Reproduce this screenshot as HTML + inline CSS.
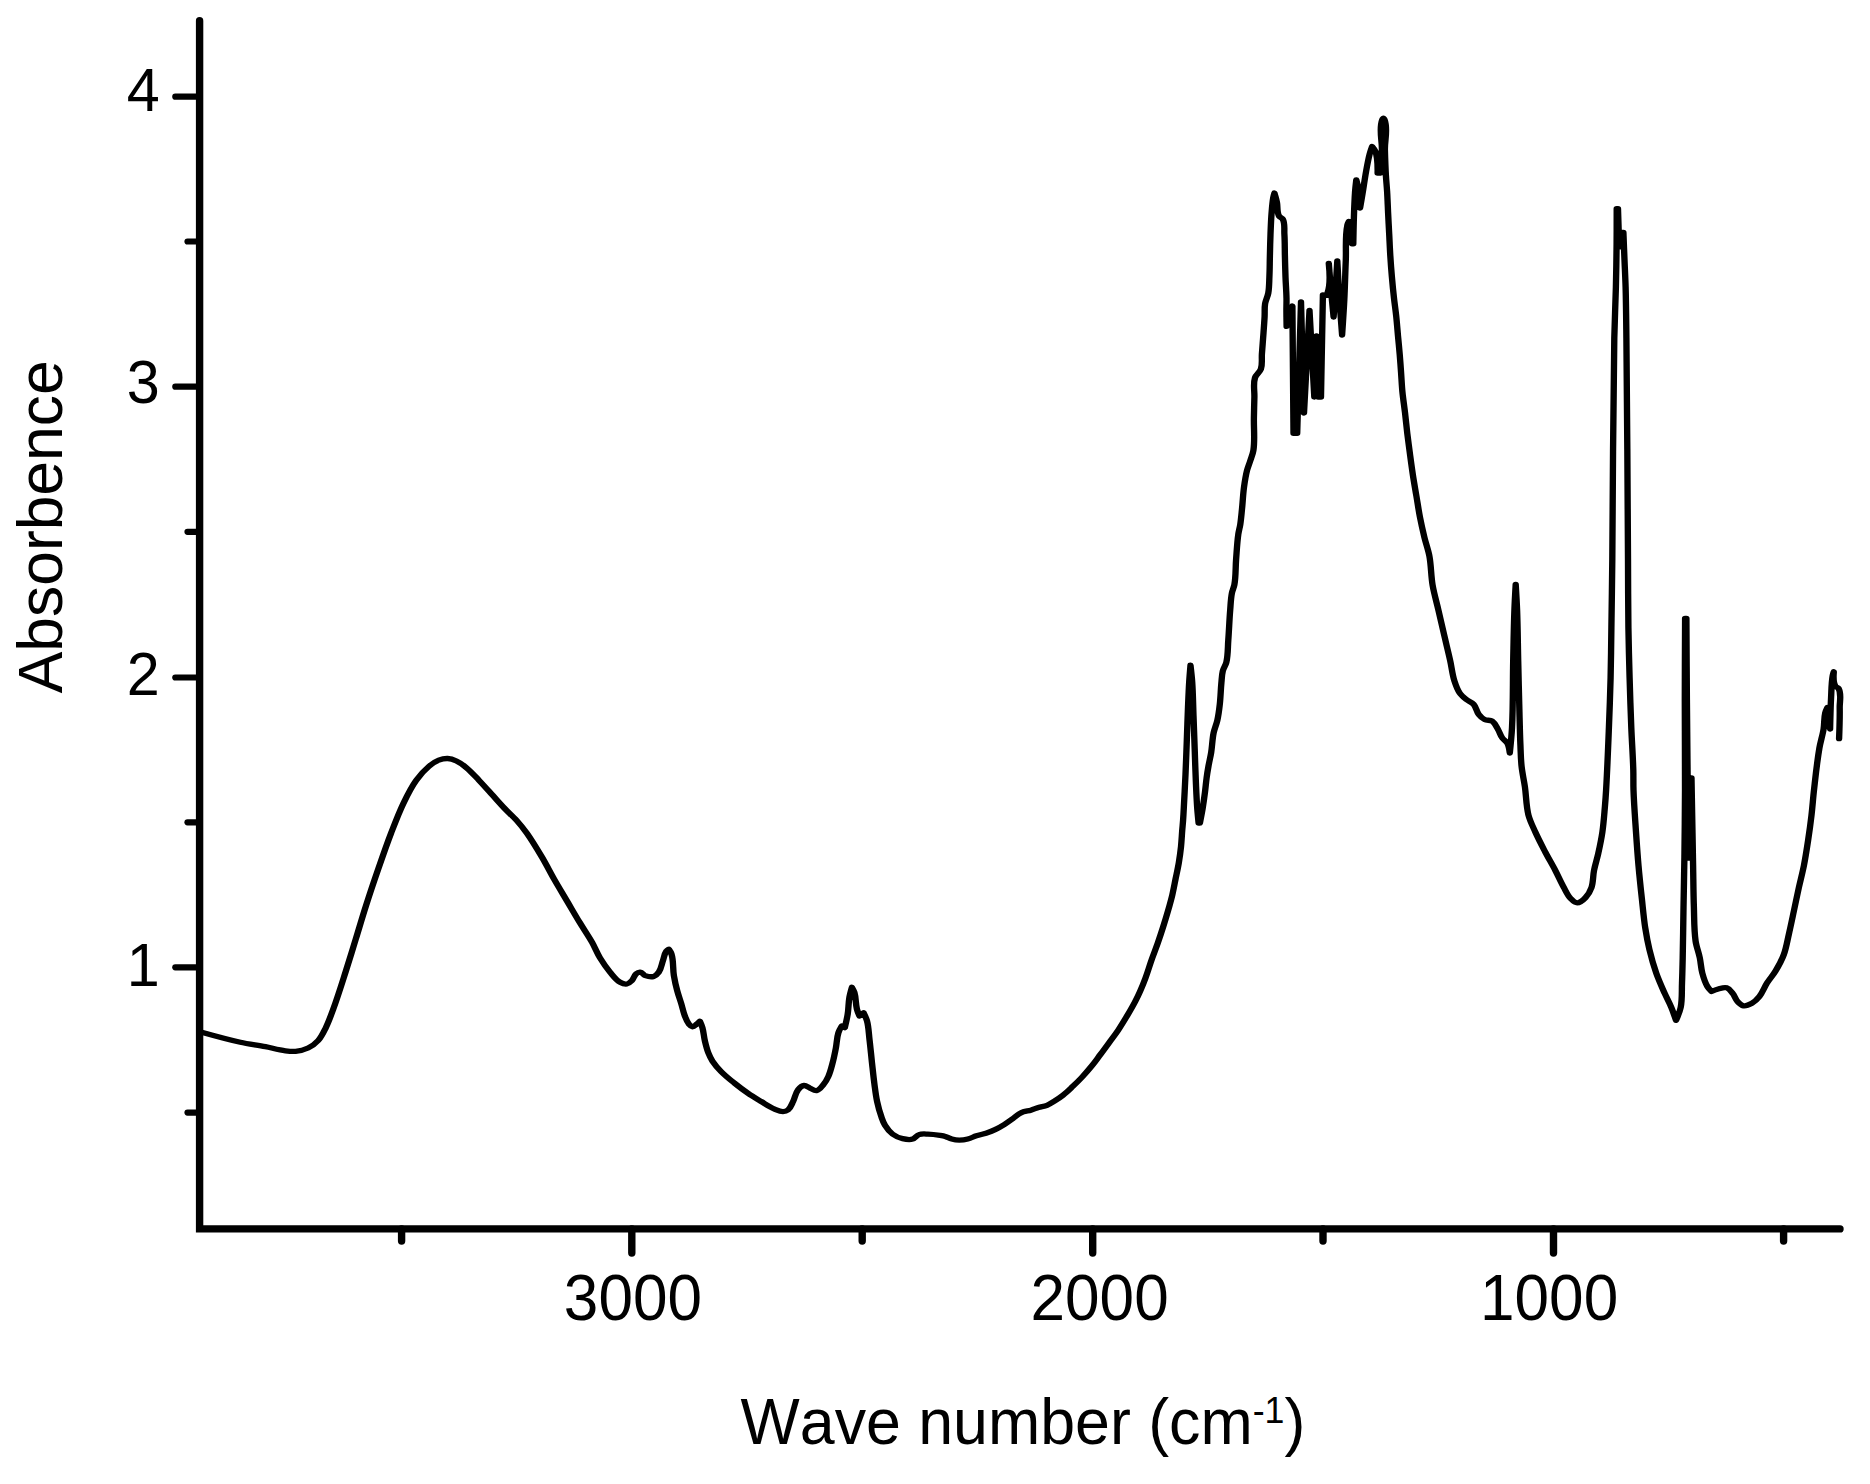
<!DOCTYPE html><html><head><meta charset="utf-8"><title>FTIR spectrum</title><style>html,body{margin:0;padding:0;background:#fff}svg{display:block}text{font-family:"Liberation Sans",Arial,sans-serif;fill:#000;font-kerning:none}</style></head><body>
<svg width="1870" height="1484" viewBox="0 0 1870 1484">
<rect width="1870" height="1484" fill="#fff"/>
<g stroke="#000" stroke-linecap="round" fill="none">
<path d="M199.6,20.7 V1228.9 H1840" stroke-width="7.4" stroke-linejoin="miter"/>
<line x1="175.3" y1="96.7" x2="199.6" y2="96.7" stroke-width="6.2"/>
<line x1="175.3" y1="386.7" x2="199.6" y2="386.7" stroke-width="6.2"/>
<line x1="175.3" y1="677.5" x2="199.6" y2="677.5" stroke-width="6.2"/>
<line x1="175.3" y1="967.3" x2="199.6" y2="967.3" stroke-width="6.2"/>
<line x1="187.5" y1="241.5" x2="199.6" y2="241.5" stroke-width="6.2"/>
<line x1="187.5" y1="531.8" x2="199.6" y2="531.8" stroke-width="6.2"/>
<line x1="187.5" y1="822.3" x2="199.6" y2="822.3" stroke-width="6.2"/>
<line x1="187.5" y1="1112.6" x2="199.6" y2="1112.6" stroke-width="6.2"/>
<line x1="631.8" y1="1228.9" x2="631.8" y2="1253.1" stroke-width="7.4"/>
<line x1="1092.7" y1="1228.9" x2="1092.7" y2="1253.1" stroke-width="7.4"/>
<line x1="1553.5" y1="1228.9" x2="1553.5" y2="1253.1" stroke-width="7.4"/>
<line x1="401.6" y1="1228.9" x2="401.6" y2="1241" stroke-width="7.4"/>
<line x1="862.2" y1="1228.9" x2="862.2" y2="1241" stroke-width="7.4"/>
<line x1="1323" y1="1228.9" x2="1323" y2="1241" stroke-width="7.4"/>
<line x1="1783.6" y1="1228.9" x2="1783.6" y2="1241" stroke-width="7.4"/>
<path d="M168.00,1032.2C168.00,1032.2 189.51,1039.4 200.25,1042.2C207.10,1044.0 214.28,1045.1 221.17,1046.7C226.71,1048.0 232.32,1050.0 237.92,1050.8C240.68,1051.2 243.57,1051.6 246.33,1051.3C249.87,1050.9 253.55,1049.8 256.75,1048.0C259.87,1046.2 262.85,1043.6 265.17,1040.5C267.87,1036.9 269.63,1032.2 271.42,1027.9C273.90,1021.9 275.82,1015.3 277.75,1009.0C281.51,996.7 284.83,983.8 288.17,971.3C291.03,960.6 293.82,949.5 296.58,938.7C299.35,927.9 302.05,916.7 304.92,906.0C308.25,893.5 311.84,880.7 315.42,868.3C318.78,856.6 322.22,844.6 325.92,833.1C329.15,823.0 332.42,812.6 336.33,802.9C339.43,795.2 342.67,787.2 346.83,780.3C349.84,775.3 353.39,770.5 357.33,766.5C359.83,764.0 362.64,761.6 365.67,760.2C367.96,759.1 370.54,758.4 373.00,758.5C375.51,758.6 378.05,759.7 380.33,761.0C383.37,762.7 386.17,765.2 388.75,767.8C392.50,771.5 395.81,776.1 399.17,780.3C402.72,784.8 406.21,789.5 409.67,794.1C413.14,798.7 416.61,803.5 420.17,808.0C423.52,812.2 427.34,816.2 430.58,820.5C433.55,824.5 436.42,828.8 439.00,833.1C443.51,840.7 447.62,849.0 451.58,857.0C455.20,864.3 458.48,872.2 462.00,879.6C465.39,886.7 469.03,893.9 472.50,901.0C475.96,908.0 479.47,915.3 483.00,922.3C486.38,929.0 490.22,935.6 493.42,942.4C495.77,947.4 497.53,953.0 500.00,957.9C502.49,962.8 505.32,967.8 508.42,972.2C510.93,975.8 513.35,980.0 516.75,982.3C518.42,983.4 520.52,984.4 522.42,984.0C524.05,983.7 525.43,982.0 526.58,980.6C528.09,978.7 528.42,975.6 530.08,973.9C531.04,972.9 532.34,972.0 533.58,972.2C535.24,972.4 536.19,974.9 537.75,975.6C539.93,976.5 542.53,977.2 544.75,976.4C546.49,975.8 547.96,974.0 549.00,972.2C550.98,968.8 551.34,964.3 552.50,960.4C553.40,957.4 553.69,953.8 555.25,951.2C555.76,950.3 557.33,949.2 557.33,949.2C557.33,949.2 559.05,952.1 559.50,953.7C561.40,960.6 560.59,968.4 561.58,975.6C562.28,980.6 563.24,985.8 564.33,990.7C565.32,995.2 566.72,999.7 567.83,1004.1C568.81,1008.0 569.44,1012.1 570.67,1015.9C571.61,1018.8 572.50,1021.9 574.17,1024.3C574.91,1025.4 575.84,1026.7 577.00,1026.8C578.34,1026.9 579.43,1025.3 580.50,1024.3C581.49,1023.4 583.25,1021.2 583.25,1021.2C583.25,1021.2 584.81,1025.4 585.33,1027.6C586.36,1031.9 586.55,1036.6 587.42,1041.0C588.19,1044.9 589.02,1049.0 590.25,1052.8C591.19,1055.7 592.34,1058.6 593.75,1061.2C595.73,1064.8 598.23,1068.2 600.75,1071.3C604.17,1075.5 608.11,1079.3 611.92,1083.0C615.52,1086.5 619.34,1090.0 623.17,1093.1C626.75,1096.1 630.60,1098.8 634.33,1101.5C637.97,1104.1 641.60,1107.1 645.50,1109.1C647.72,1110.2 650.09,1111.6 652.50,1111.6C653.98,1111.6 655.60,1111.0 656.75,1109.9C658.84,1107.9 659.70,1104.4 660.92,1101.5C662.51,1097.7 662.88,1093.0 665.08,1089.7C666.33,1087.8 668.02,1085.7 670.00,1085.5C671.76,1085.3 673.27,1087.3 674.92,1088.1C676.74,1089.0 678.57,1091.0 680.50,1090.6C682.91,1090.1 684.51,1087.0 686.08,1084.7C687.82,1082.2 689.22,1079.3 690.33,1076.3C691.92,1072.1 692.84,1067.4 693.83,1062.9C694.92,1058.0 695.78,1052.8 696.58,1047.8C697.38,1042.8 697.37,1037.5 698.67,1032.7C699.31,1030.3 701.50,1025.9 701.50,1025.9L704.00,1027.6C704.00,1027.6 705.83,1018.7 706.42,1014.2C707.14,1008.7 707.04,1002.9 707.83,997.4C708.32,994.0 709.92,987.3 709.92,987.3C709.92,987.3 711.54,990.6 712.00,992.4C713.38,997.7 712.93,1003.7 714.08,1009.1C714.58,1011.4 716.17,1015.9 716.17,1015.9L719.67,1012.8C719.67,1012.8 721.87,1018.1 722.50,1020.9C723.85,1026.8 723.97,1033.3 724.58,1039.4C725.36,1047.1 725.95,1055.1 726.67,1062.9C727.33,1070.1 727.94,1077.5 728.75,1084.7C729.37,1090.3 729.93,1096.0 730.92,1101.5C731.83,1106.6 732.99,1111.7 734.42,1116.6C735.28,1119.5 736.13,1122.7 737.50,1125.3C739.19,1128.6 741.27,1131.8 743.83,1134.1C746.25,1136.3 749.23,1137.8 752.17,1138.6C754.87,1139.4 757.91,1140.0 760.58,1139.1C762.63,1138.4 763.83,1135.4 765.83,1134.6C768.12,1133.6 770.74,1134.0 773.17,1134.1C776.54,1134.2 780.00,1134.7 783.33,1135.3C784.80,1135.6 786.32,1135.9 787.75,1136.4C789.59,1137.1 791.31,1138.4 793.17,1139.0C795.18,1139.7 797.33,1140.1 799.42,1140.1C801.77,1140.1 804.21,1139.7 806.50,1139.0C808.95,1138.3 811.26,1136.7 813.67,1135.8C816.27,1134.8 819.07,1134.2 821.67,1133.2C824.36,1132.1 827.10,1130.9 829.67,1129.4C832.11,1128.0 834.54,1126.3 836.83,1124.6C839.25,1122.8 841.61,1120.7 843.92,1118.7C845.70,1117.2 847.37,1115.3 849.25,1113.9C850.37,1113.1 851.59,1112.3 852.83,1111.8C854.83,1111.0 857.06,1110.9 859.08,1110.2C861.19,1109.5 863.24,1108.3 865.33,1107.5C867.67,1106.6 870.24,1106.4 872.50,1105.3C874.67,1104.2 876.68,1102.6 878.67,1101.1C881.10,1099.3 883.58,1097.3 885.83,1095.2C888.62,1092.6 891.26,1089.5 893.83,1086.6C896.54,1083.5 899.29,1080.3 901.83,1077.0C904.61,1073.4 907.36,1069.6 909.92,1065.8C912.36,1062.2 914.68,1058.2 917.00,1054.5C919.38,1050.7 921.81,1046.7 924.17,1042.8C926.65,1038.7 929.32,1034.7 931.67,1030.5C934.29,1025.8 936.77,1020.8 939.17,1016.0C941.50,1011.3 943.88,1006.4 946.00,1001.5C947.50,998.1 948.94,994.5 950.25,990.9C951.79,986.7 953.26,982.3 954.58,978.0C956.49,971.8 958.08,965.2 959.92,959.0C961.48,953.7 963.28,948.3 964.83,943.0C966.36,937.7 967.85,932.3 969.25,927.0C970.65,921.7 972.06,916.2 973.33,910.9C974.59,905.6 975.87,900.2 976.92,894.9C977.96,889.6 978.77,884.1 979.67,878.8C980.56,873.5 981.59,868.1 982.33,862.8C983.07,857.5 983.70,852.0 984.17,846.7C984.63,841.4 984.82,836.0 985.17,830.7C985.40,827.2 985.71,823.5 985.92,820.0C986.15,816.0 986.32,811.9 986.50,807.9C987.00,796.8 987.50,785.4 987.92,774.3C988.33,763.2 988.66,751.8 989.00,740.7C989.34,729.6 989.62,718.3 990.00,707.2C990.29,698.9 990.57,690.3 991.00,682.0C991.29,676.5 992.08,665.2 992.08,665.2C992.08,665.2 993.18,676.4 993.50,682.0C994.14,693.1 994.24,704.5 994.58,715.6C994.93,726.7 995.25,738.0 995.58,749.1C995.91,760.2 996.18,771.6 996.58,782.7C996.89,791.0 997.17,799.6 997.67,807.9C997.97,812.9 998.83,823.0 998.83,823.0L999.92,823.0C999.92,823.0 1001.57,813.0 1002.25,808.1C1002.98,802.8 1003.60,797.3 1004.17,792.0C1004.66,787.4 1004.98,782.6 1005.50,778.0C1005.95,774.0 1006.50,769.9 1007.08,766.0C1007.75,761.5 1008.72,756.8 1009.33,752.3C1010.18,746.0 1010.24,739.3 1011.33,733.0C1012.07,728.8 1013.63,724.7 1014.42,720.5C1015.41,715.2 1015.99,709.6 1016.50,704.2C1017.17,697.2 1017.27,689.8 1017.83,682.8C1018.15,678.9 1018.18,674.8 1019.00,671.0C1019.64,668.1 1021.32,665.4 1021.92,662.5C1023.39,655.3 1023.11,647.4 1023.58,640.0C1024.21,630.1 1024.49,619.8 1025.17,609.9C1025.55,604.3 1025.68,598.6 1026.58,593.1C1027.05,590.3 1028.24,587.5 1028.67,584.7C1029.90,576.5 1029.55,567.8 1030.08,559.5C1030.62,551.2 1030.93,542.6 1031.92,534.3C1032.31,531.0 1033.15,527.6 1033.58,524.3C1034.23,519.3 1034.57,514.1 1035.00,509.1C1035.61,501.9 1035.86,494.5 1036.67,487.3C1037.29,481.7 1038.00,476.0 1039.17,470.5C1039.89,467.1 1041.11,463.8 1042.00,460.4C1042.87,457.1 1044.06,453.8 1044.50,450.4C1045.85,439.9 1044.74,428.9 1044.92,418.3C1045.03,411.3 1045.17,404.0 1045.33,397.0C1045.48,390.6 1044.18,383.8 1045.83,377.7C1046.73,374.4 1049.81,372.4 1050.75,369.1C1052.10,364.4 1051.29,359.1 1051.58,354.2C1052.00,347.1 1052.50,339.9 1052.92,332.8C1053.23,327.5 1053.60,322.0 1053.83,316.7C1054.02,312.4 1053.66,307.9 1054.25,303.7C1054.75,300.1 1056.37,296.6 1056.92,293.0C1057.70,287.8 1057.63,282.3 1057.83,277.0C1058.10,269.9 1058.10,262.7 1058.25,255.6C1058.40,248.5 1058.52,241.3 1058.75,234.2C1058.98,227.1 1059.20,219.8 1059.67,212.8C1059.99,207.8 1060.28,202.7 1061.00,197.8C1061.24,196.2 1062.00,193.0 1062.00,193.0C1062.00,193.0 1063.54,199.1 1064.08,202.1C1064.89,206.6 1063.94,212.0 1065.83,216.0C1066.50,217.4 1068.36,217.8 1069.00,219.2C1070.95,223.6 1070.06,229.2 1070.33,234.2C1070.71,241.2 1070.60,248.5 1070.75,255.6C1070.90,262.7 1071.03,269.9 1071.25,277.0C1071.47,284.0 1071.97,291.3 1072.08,298.3C1072.15,302.2 1071.99,306.1 1072.00,310.0C1072.01,315.4 1072.17,326.4 1072.17,326.4L1077.00,306.0L1077.92,433.3L1081.00,433.3L1084.17,301.8L1086.67,413.0L1091.25,310.3L1095.25,397.0L1097.08,336.0L1098.42,397.0L1100.83,397.0L1102.42,294.8C1102.42,294.8 1103.88,295.8 1104.58,295.5C1105.42,295.2 1105.94,294.0 1106.25,293.0C1109.11,283.9 1107.33,263.5 1107.33,263.5C1107.33,263.5 1108.51,281.3 1109.17,290.0C1109.83,298.9 1111.33,317.0 1111.33,317.0C1111.33,317.0 1112.42,298.9 1112.92,290.0C1113.44,280.4 1114.42,261.0 1114.42,261.0C1114.42,261.0 1115.55,287.1 1116.25,300.0C1116.88,311.6 1118.42,335.0 1118.42,335.0C1118.42,335.0 1119.77,311.6 1120.25,300.0C1120.80,286.8 1121.04,273.2 1121.50,260.0C1121.90,248.4 1120.80,236.3 1122.83,225.0C1123.05,223.8 1124.00,221.5 1124.00,221.5C1124.00,221.5 1125.08,228.5 1125.50,232.0C1125.97,235.9 1126.67,243.8 1126.67,243.8L1127.75,243.8C1127.75,243.8 1128.23,209.5 1129.17,192.7C1129.40,188.4 1130.25,179.8 1130.25,179.8C1130.25,179.8 1131.60,185.5 1132.00,188.4C1132.88,194.8 1133.42,208.0 1133.42,208.0C1133.42,208.0 1134.89,197.8 1135.58,192.7C1136.55,185.6 1137.35,178.3 1138.42,171.3C1139.27,165.6 1140.11,159.8 1141.33,154.2C1141.90,151.6 1143.42,146.5 1143.42,146.5C1143.42,146.5 1145.68,149.7 1146.25,151.6C1148.24,158.3 1148.00,173.0 1148.00,173.0L1150.67,173.0C1150.67,173.0 1151.39,157.5 1151.58,149.9C1151.84,139.9 1148.83,128.8 1151.92,119.5C1152.08,119.0 1152.83,118.3 1152.83,118.3C1152.83,118.3 1153.58,119.0 1153.75,119.5C1156.83,128.8 1153.87,139.9 1154.08,149.9C1154.27,158.4 1154.51,167.1 1154.92,175.5C1155.17,180.8 1155.65,186.1 1155.92,191.4C1156.28,198.5 1156.46,205.7 1156.75,212.8C1157.04,219.9 1157.36,227.1 1157.67,234.2C1157.97,241.3 1158.21,248.5 1158.58,255.6C1158.95,262.7 1159.41,269.9 1159.92,277.0C1160.42,284.0 1161.01,291.3 1161.67,298.3C1162.21,304.1 1162.98,310.1 1163.50,316.0C1164.09,322.6 1164.50,329.4 1165.00,336.0C1165.46,342.0 1166.00,348.2 1166.42,354.2C1166.85,360.4 1167.21,366.8 1167.58,373.0C1167.95,379.2 1168.17,385.5 1168.67,391.7C1169.23,398.6 1170.16,405.7 1170.83,412.6C1171.50,419.5 1172.07,426.5 1172.75,433.4C1173.44,440.3 1174.23,447.4 1175.00,454.3C1175.77,461.2 1176.54,468.2 1177.42,475.1C1178.30,482.0 1179.37,489.1 1180.33,496.0C1181.30,502.9 1182.14,510.0 1183.25,516.9C1184.37,523.8 1185.70,530.9 1187.08,537.7C1188.32,543.8 1190.20,549.9 1191.17,556.1C1192.65,565.6 1192.47,575.7 1193.83,585.2C1195.04,593.6 1197.14,602.1 1198.75,610.4C1200.36,618.7 1201.97,627.3 1203.58,635.6C1205.19,643.9 1206.97,652.4 1208.50,660.7C1209.73,667.3 1210.29,674.4 1212.00,680.9C1213.07,684.9 1214.26,689.2 1216.25,692.7C1217.71,695.3 1219.82,697.4 1221.83,699.4C1223.75,701.3 1226.44,702.2 1228.08,704.4C1230.15,707.2 1230.42,711.6 1232.33,714.5C1233.63,716.5 1235.29,718.4 1237.17,719.5C1239.08,720.7 1241.72,719.8 1243.50,721.2C1245.85,723.1 1246.97,726.7 1248.42,729.6C1249.74,732.3 1250.41,735.5 1251.92,738.0C1253.05,739.9 1255.13,741.0 1256.08,743.0C1257.49,746.0 1258.17,753.1 1258.17,753.1C1258.17,753.1 1259.64,736.2 1260.00,727.9C1260.97,705.8 1260.61,682.9 1261.00,660.7C1261.29,644.1 1261.49,627.0 1262.00,610.4C1262.26,601.8 1263.08,584.3 1263.08,584.3C1263.08,584.3 1263.98,601.8 1264.25,610.4C1264.77,627.0 1264.85,644.1 1265.17,660.7C1265.48,677.3 1265.80,694.5 1266.17,711.1C1266.41,722.2 1266.61,733.6 1267.00,744.7C1267.25,751.9 1267.35,759.3 1268.00,766.5C1268.61,773.2 1269.94,780.0 1270.75,786.7C1271.88,796.1 1271.76,806.0 1273.75,815.2C1275.01,821.0 1277.37,826.5 1279.42,832.0C1281.95,838.8 1284.90,845.5 1287.75,852.1C1290.43,858.3 1293.48,864.4 1296.17,870.6C1298.56,876.1 1300.66,882.0 1303.17,887.4C1304.88,891.1 1306.31,895.3 1308.75,898.3C1310.29,900.2 1312.11,902.8 1314.33,902.8C1317.06,902.8 1319.44,899.9 1321.33,897.5C1323.57,894.7 1325.18,891.0 1326.25,887.4C1327.80,882.1 1327.42,876.1 1328.33,870.6C1329.26,865.0 1330.80,859.4 1331.83,853.8C1333.15,846.6 1334.45,839.2 1335.33,832.0C1336.34,823.7 1336.82,815.1 1337.42,806.8C1337.81,801.3 1338.15,795.5 1338.42,790.0C1339.41,769.5 1340.08,748.4 1340.75,727.9C1341.30,711.3 1341.82,694.2 1342.17,677.6C1342.51,661.0 1342.63,643.8 1342.83,627.2C1343.10,605.0 1343.38,582.2 1343.58,560.0C1344.27,486.7 1344.02,411.2 1345.25,338.0C1345.53,321.2 1346.25,303.8 1346.58,287.0C1346.87,272.8 1347.05,258.2 1347.17,244.0C1347.26,232.4 1347.25,208.7 1347.25,208.7L1348.33,208.7L1349.33,247.0L1352.00,232.5L1352.83,232.5C1352.83,232.5 1353.44,250.9 1353.75,260.0C1354.05,268.9 1354.46,278.1 1354.67,287.0C1355.06,303.8 1355.17,321.2 1355.33,338.0C1356.03,411.3 1356.26,486.7 1356.67,560.0C1356.79,582.2 1356.73,605.0 1357.00,627.2C1357.21,643.8 1357.60,661.0 1358.00,677.6C1358.40,694.2 1358.85,711.3 1359.42,727.9C1359.89,741.8 1360.75,756.0 1361.08,769.9C1361.24,776.5 1361.06,783.4 1361.25,790.0C1361.65,803.9 1362.56,818.1 1363.33,832.0C1363.95,843.1 1364.61,854.5 1365.42,865.6C1366.23,876.7 1367.25,888.1 1368.25,899.1C1369.10,908.5 1369.80,918.3 1371.00,927.7C1371.93,934.9 1373.07,942.4 1374.50,949.5C1376.07,957.3 1377.94,965.4 1380.17,973.0C1382.16,979.8 1384.73,986.6 1387.17,993.2C1388.92,997.9 1391.09,1002.6 1392.75,1007.4C1394.21,1011.6 1396.67,1020.4 1396.67,1020.4C1396.67,1020.4 1399.83,1011.9 1400.58,1007.4C1401.91,999.5 1401.39,991.1 1401.67,983.1C1401.95,974.8 1402.10,966.2 1402.25,957.9C1402.55,941.3 1402.68,924.1 1402.92,907.5C1403.15,890.9 1403.48,873.8 1403.67,857.2C1403.91,835.0 1404.10,812.2 1404.17,790.0C1404.25,760.3 1403.98,729.7 1404.00,700.0C1404.02,673.0 1404.25,618.3 1404.25,618.3L1405.33,618.3C1405.33,618.3 1405.57,673.0 1405.75,700.0C1406.10,752.1 1407.08,858.0 1407.08,858.0L1409.58,778.0C1409.58,778.0 1410.47,836.7 1410.92,865.6C1411.13,879.4 1411.18,893.7 1411.58,907.5C1411.91,918.6 1411.64,930.1 1413.00,941.1C1413.70,946.8 1415.53,952.3 1416.50,957.9C1417.35,962.8 1417.49,968.1 1418.58,973.0C1419.61,977.6 1420.83,982.4 1422.83,986.5C1423.74,988.4 1426.33,991.5 1426.33,991.5C1426.33,991.5 1430.01,989.6 1431.92,989.0C1434.18,988.3 1436.69,987.0 1438.92,987.8C1441.02,988.6 1442.44,991.2 1443.83,993.2C1445.53,995.7 1446.18,999.2 1448.00,1001.6C1449.35,1003.4 1450.95,1005.4 1452.92,1005.8C1455.29,1006.3 1457.82,1004.7 1459.92,1003.3C1462.34,1001.7 1464.43,999.1 1466.17,996.5C1468.81,992.5 1470.22,987.4 1472.50,983.1C1474.64,979.1 1477.44,975.4 1479.50,971.3C1482.15,966.0 1484.72,960.4 1486.50,954.6C1488.49,948.2 1489.37,941.1 1490.67,934.4C1492.16,926.7 1493.53,918.7 1494.92,910.9C1496.30,903.1 1497.66,895.1 1499.08,887.4C1500.41,880.2 1502.06,872.8 1503.25,865.6C1504.61,857.3 1505.70,848.7 1506.75,840.4C1507.79,832.1 1508.77,823.5 1509.58,815.2C1510.39,806.9 1510.88,798.3 1511.67,790.0C1512.98,776.1 1514.17,761.8 1516.17,748.0C1517.09,741.7 1518.82,735.3 1519.67,729.0C1520.37,723.8 1519.93,718.2 1521.00,713.0C1521.39,711.1 1522.83,707.6 1522.83,707.6L1525.08,729.0C1525.08,729.0 1525.45,707.6 1525.92,697.0C1526.23,689.9 1526.20,682.6 1527.25,675.6C1527.44,674.3 1528.17,671.8 1528.17,671.8C1528.17,671.8 1527.40,682.2 1529.50,686.3C1530.05,687.4 1531.64,687.3 1532.17,688.4C1534.81,693.9 1532.98,701.3 1533.08,707.6C1533.25,717.9 1532.58,738.7 1532.58,738.7" transform="scale(1.2,1)" stroke-width="5.3" stroke-linejoin="round"/>
</g>
<text transform="translate(159.7,111) scale(0.9609,1)" font-size="61.71" text-anchor="end">4</text>
<text transform="translate(159.7,403.2) scale(0.9609,1)" font-size="61.71" text-anchor="end">3</text>
<text transform="translate(159.7,694.8) scale(0.9609,1)" font-size="61.71" text-anchor="end">2</text>
<text transform="translate(159.7,986) scale(0.9609,1)" font-size="61.71" text-anchor="end">1</text>
<text transform="translate(632.9,1319.8) scale(0.9609,1)" font-size="64.63" text-anchor="middle">3000</text>
<text transform="translate(1099.6,1319.8) scale(0.9609,1)" font-size="64.63" text-anchor="middle">2000</text>
<text transform="translate(1549.1,1319.8) scale(0.9609,1)" font-size="64.63" text-anchor="middle">1000</text>
<text transform="translate(740.6,1443.9) scale(0.9801,1)" font-size="63.98" text-anchor="start">Wave number (cm<tspan font-size="36.5" dy="-21.4">-1</tspan><tspan dy="21.4">)</tspan></text>
<text transform="translate(61.5,693.3) rotate(-90) scale(0.9801,1)" font-size="63.67" text-anchor="start">Absorbence</text>
</svg></body></html>
